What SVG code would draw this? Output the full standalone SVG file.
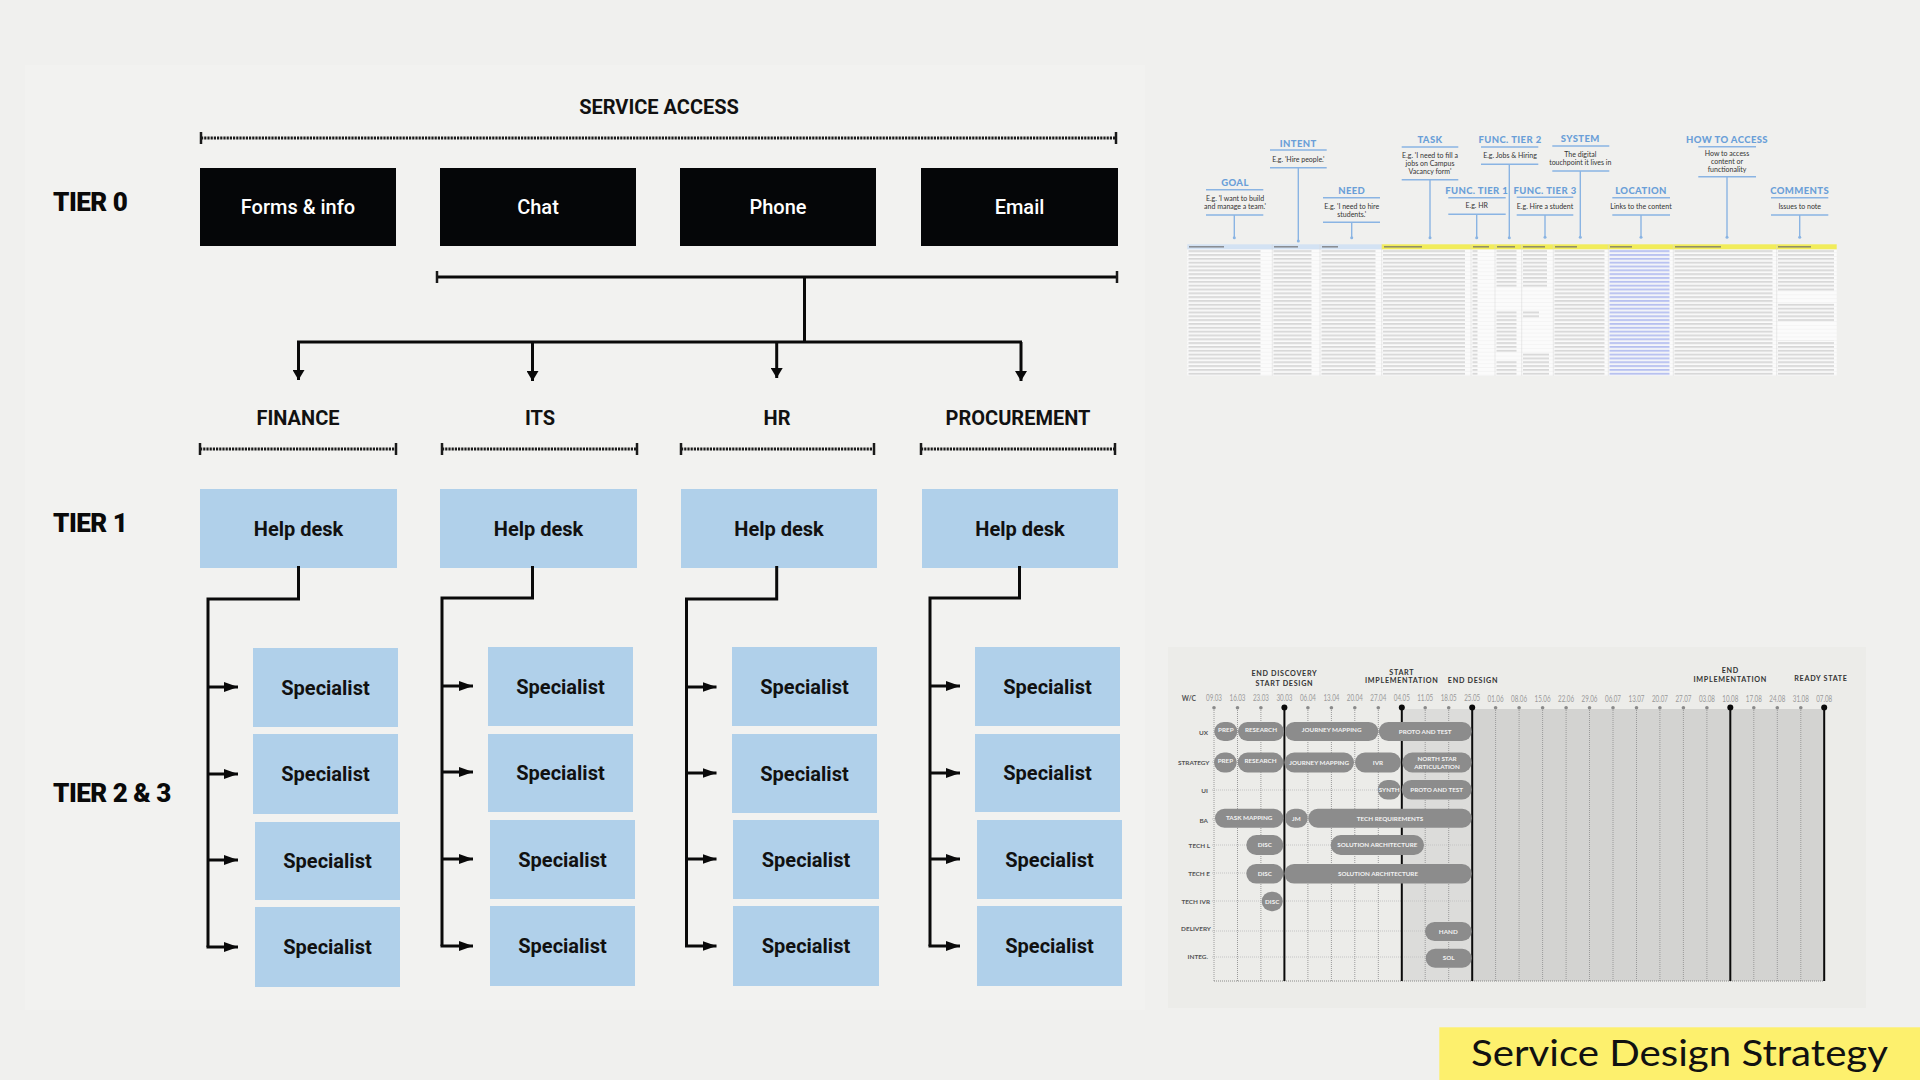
<svg xmlns="http://www.w3.org/2000/svg" width="1920" height="1080" viewBox="0 0 1920 1080">
<defs>
<style>
.tier{font-family:Roboto,"Liberation Sans",sans-serif;font-weight:900;font-size:26px;fill:#0a0a0a;letter-spacing:-0.5px}
.sec{font-family:Roboto,"Liberation Sans",sans-serif;font-weight:700;font-size:20px;fill:#111;text-anchor:middle}
.blk{fill:#050608}
.blu{fill:#b0d0ea}
.wt{font-family:Roboto,"Liberation Sans",sans-serif;font-weight:500;font-size:20px;fill:#fff;text-anchor:middle}
.bt{font-family:Roboto,"Liberation Sans",sans-serif;font-weight:700;font-size:20px;fill:#111;text-anchor:middle}
.dot{stroke:#1a1a1a;stroke-width:3;stroke-dasharray:2.2 1;fill:none}
.tick{stroke:#1a1a1a;stroke-width:2.5;fill:none}
.con{stroke:#0a0a0a;stroke-width:3;fill:none}
.st{font-family:Lato,"Open Sans",sans-serif;font-weight:900;font-size:9.5px;fill:#6a9fd8;text-anchor:middle;letter-spacing:0.4px}
.sd{font-family:Lato,"Open Sans",sans-serif;font-size:7px;fill:#333;text-anchor:middle}
.sl{stroke:#8ab4e3;stroke-width:1.4;fill:none}
.gd{font-family:Lato,"Open Sans",sans-serif;font-size:8.5px;fill:#9a9a9a;text-anchor:middle}
.gm{font-family:Lato,"Open Sans",sans-serif;font-weight:700;font-size:7.2px;fill:#333;text-anchor:middle;letter-spacing:0.7px}
.gr{font-family:Lato,"Open Sans",sans-serif;font-weight:700;font-size:6.4px;fill:#555;text-anchor:end}
.bar{fill:#8c8c8c}
.bx{font-family:Lato,"Open Sans",sans-serif;font-weight:700;font-size:6.3px;fill:#f2f2f2;text-anchor:middle}
.vl{stroke:#9a9a9a;stroke-width:1;stroke-dasharray:1 1;fill:none}
.hl{stroke:#c4c4c4;stroke-width:1;stroke-dasharray:1 1;fill:none}
.ml{stroke:#0a0a0a;stroke-width:2;fill:none}
</style>
<marker id="ad" viewBox="0 0 10 12" refX="10" refY="6" markerWidth="10" markerHeight="12" markerUnits="userSpaceOnUse" orient="auto"><path d="M0,0 L10,6 L0,12 Z" fill="#0a0a0a"/></marker>
<marker id="ar" viewBox="0 0 14 10" refX="14" refY="5" markerWidth="14" markerHeight="10" markerUnits="userSpaceOnUse" orient="auto"><path d="M0,0 L14,5 L0,10 Z" fill="#0a0a0a"/></marker>
<pattern id="grid" patternUnits="userSpaceOnUse" x="0" y="249.3" width="10" height="3.83"><rect width="10" height="3.83" fill="#fbfbfb"/><rect y="3.55" width="10" height="0.3" fill="#e4e4e4"/></pattern>
<pattern id="tx" patternUnits="userSpaceOnUse" x="0" y="249.3" width="4" height="3.83"><rect y="1.3" width="4" height="1.1" fill="#c2c2c2"/></pattern>
<pattern id="lk" patternUnits="userSpaceOnUse" x="0" y="249.3" width="4" height="3.83"><rect y="0.6" width="4" height="2.6" fill="#e8ebf9"/><rect y="1.3" width="4" height="1.1" fill="#9aa7ea"/></pattern>
</defs>
<rect width="1920" height="1080" fill="#f0f0ee"/>
<rect x="25" y="65" width="1120" height="945" fill="#f2f2f0"/>

<!-- headings -->
<text x="659" y="114" class="sec">SERVICE ACCESS</text>
<text x="53" y="211" class="tier">TIER 0</text>
<text x="53" y="532" class="tier">TIER 1</text>
<text x="53" y="802" class="tier">TIER 2 &amp; 3</text>

<g id="brackets">
<line x1="201" y1="138" x2="1116" y2="138" class="dot"/>
<line x1="201" y1="132" x2="201" y2="144" class="tick"/><line x1="1116" y1="132" x2="1116" y2="144" class="tick"/>
<line x1="200" y1="449" x2="396" y2="449" class="dot"/>
<line x1="200" y1="443" x2="200" y2="455" class="tick"/><line x1="396" y1="443" x2="396" y2="455" class="tick"/>
<line x1="442" y1="449" x2="637" y2="449" class="dot"/>
<line x1="442" y1="443" x2="442" y2="455" class="tick"/><line x1="637" y1="443" x2="637" y2="455" class="tick"/>
<line x1="681" y1="449" x2="874" y2="449" class="dot"/>
<line x1="681" y1="443" x2="681" y2="455" class="tick"/><line x1="874" y1="443" x2="874" y2="455" class="tick"/>
<line x1="921" y1="449" x2="1115" y2="449" class="dot"/>
<line x1="921" y1="443" x2="921" y2="455" class="tick"/><line x1="1115" y1="443" x2="1115" y2="455" class="tick"/>
</g>

<g id="tier0">
<g id="forms"><rect x="200" y="168" width="196" height="78" class="blk"/><text x="298" y="214" class="wt">Forms &amp; info</text></g>
<g id="chat"><rect x="440" y="168" width="196" height="78" class="blk"/><text x="538" y="214" class="wt">Chat</text></g>
<g id="phone"><rect x="680" y="168" width="196" height="78" class="blk"/><text x="778" y="214" class="wt">Phone</text></g>
<g id="email"><rect x="921" y="168" width="197" height="78" class="blk"/><text x="1019.5" y="214" class="wt">Email</text></g>
</g>

<g id="sections">
<text x="298" y="425" class="sec">FINANCE</text>
<text x="540" y="425" class="sec">ITS</text>
<text x="777" y="425" class="sec">HR</text>
<text x="1018" y="425" class="sec">PROCUREMENT</text>
</g>

<g id="tier1">
<g id="hd-fin"><rect x="200" y="489" width="197" height="79" class="blu"/><text x="298.5" y="536" class="bt">Help desk</text></g>
<g id="hd-its"><rect x="440" y="489" width="197" height="79" class="blu"/><text x="538.5" y="536" class="bt">Help desk</text></g>
<g id="hd-hr"><rect x="681" y="489" width="196" height="79" class="blu"/><text x="779" y="536" class="bt">Help desk</text></g>
<g id="hd-proc"><rect x="922" y="489" width="196" height="79" class="blu"/><text x="1020" y="536" class="bt">Help desk</text></g>
</g>

<g id="specialists">
<g id="fin-s1"><rect x="253" y="648" width="145" height="79" class="blu"/><text x="325.5" y="694.5" class="bt">Specialist</text></g>
<g id="fin-s2"><rect x="253" y="734" width="145" height="80" class="blu"/><text x="325.5" y="781" class="bt">Specialist</text></g>
<g id="fin-s3"><rect x="255" y="822" width="145" height="78" class="blu"/><text x="327.5" y="868" class="bt">Specialist</text></g>
<g id="fin-s4"><rect x="255" y="907" width="145" height="80" class="blu"/><text x="327.5" y="954" class="bt">Specialist</text></g>
<g id="its-s1"><rect x="488" y="647" width="145" height="79" class="blu"/><text x="560.5" y="693.5" class="bt">Specialist</text></g>
<g id="its-s2"><rect x="488" y="734" width="145" height="78" class="blu"/><text x="560.5" y="780" class="bt">Specialist</text></g>
<g id="its-s3"><rect x="490" y="820" width="145" height="79" class="blu"/><text x="562.5" y="866.5" class="bt">Specialist</text></g>
<g id="its-s4"><rect x="490" y="906" width="145" height="80" class="blu"/><text x="562.5" y="953" class="bt">Specialist</text></g>
<g id="hr-s1"><rect x="732" y="647" width="145" height="79" class="blu"/><text x="804.5" y="693.5" class="bt">Specialist</text></g>
<g id="hr-s2"><rect x="732" y="734" width="145" height="79" class="blu"/><text x="804.5" y="780.5" class="bt">Specialist</text></g>
<g id="hr-s3"><rect x="733" y="820" width="146" height="79" class="blu"/><text x="806" y="866.5" class="bt">Specialist</text></g>
<g id="hr-s4"><rect x="733" y="906" width="146" height="80" class="blu"/><text x="806" y="953" class="bt">Specialist</text></g>
<g id="proc-s1"><rect x="975" y="647" width="145" height="79" class="blu"/><text x="1047.5" y="693.5" class="bt">Specialist</text></g>
<g id="proc-s2"><rect x="975" y="734" width="145" height="78" class="blu"/><text x="1047.5" y="780" class="bt">Specialist</text></g>
<g id="proc-s3"><rect x="977" y="820" width="145" height="79" class="blu"/><text x="1049.5" y="866.5" class="bt">Specialist</text></g>
<g id="proc-s4"><rect x="977" y="906" width="145" height="80" class="blu"/><text x="1049.5" y="953" class="bt">Specialist</text></g>
</g>

<g id="connectors">
<line x1="437" y1="277" x2="1117" y2="277" class="con"/>
<line x1="437" y1="271" x2="437" y2="283" class="tick"/><line x1="1117" y1="271" x2="1117" y2="283" class="tick"/>
<line x1="804.5" y1="277" x2="804.5" y2="342" class="con"/>
<line x1="297" y1="342" x2="1022" y2="342" class="con"/>
<line x1="298.5" y1="342" x2="298.5" y2="380" class="con" marker-end="url(#ad)"/>
<line x1="532.5" y1="342" x2="532.5" y2="381" class="con" marker-end="url(#ad)"/>
<line x1="776.7" y1="342" x2="776.7" y2="378" class="con" marker-end="url(#ad)"/>
<line x1="1021" y1="342" x2="1021" y2="381" class="con" marker-end="url(#ad)"/>

<path d="M298.5 566 V599 H208 V947" class="con"/>
<line x1="208" y1="687" x2="238" y2="687" class="con" marker-end="url(#ar)"/>
<line x1="208" y1="774" x2="238" y2="774" class="con" marker-end="url(#ar)"/>
<line x1="208" y1="860" x2="238" y2="860" class="con" marker-end="url(#ar)"/>
<line x1="206.5" y1="947" x2="238" y2="947" class="con" marker-end="url(#ar)"/>

<path d="M532.5 566 V598 H442 V946" class="con"/>
<line x1="442" y1="686" x2="473" y2="686" class="con" marker-end="url(#ar)"/>
<line x1="442" y1="772" x2="473" y2="772" class="con" marker-end="url(#ar)"/>
<line x1="442" y1="859" x2="473" y2="859" class="con" marker-end="url(#ar)"/>
<line x1="440.5" y1="946" x2="473" y2="946" class="con" marker-end="url(#ar)"/>

<path d="M776.7 566 V599 H686.5 V946" class="con"/>
<line x1="686.5" y1="687" x2="716.5" y2="687" class="con" marker-end="url(#ar)"/>
<line x1="686.5" y1="773" x2="716.5" y2="773" class="con" marker-end="url(#ar)"/>
<line x1="686.5" y1="859" x2="716.5" y2="859" class="con" marker-end="url(#ar)"/>
<line x1="685" y1="946" x2="716.5" y2="946" class="con" marker-end="url(#ar)"/>

<path d="M1019.5 566 V598 H930 V946" class="con"/>
<line x1="930" y1="686" x2="960" y2="686" class="con" marker-end="url(#ar)"/>
<line x1="930" y1="773" x2="960" y2="773" class="con" marker-end="url(#ar)"/>
<line x1="930" y1="859" x2="960" y2="859" class="con" marker-end="url(#ar)"/>
<line x1="928.5" y1="946" x2="960" y2="946" class="con" marker-end="url(#ar)"/>
</g>

<!-- spreadsheet image -->
<g id="spreadsheet">
<rect x="1187.3" y="249.3" width="649.4" height="126.4" fill="url(#grid)"/>
<rect x="1187.3" y="244.3" width="194.4" height="5" fill="#d3e2f3"/>
<rect x="1381.7" y="244.3" width="455" height="5" fill="#f1ec5a"/>
<g fill="#6a6a6a">
<rect x="1189" y="246.3" width="35" height="1.1"/><rect x="1274" y="246.3" width="24" height="1.1"/><rect x="1322" y="246.3" width="16" height="1.1"/>
<rect x="1384" y="246.3" width="38" height="1.1"/><rect x="1473" y="246.3" width="16" height="1.1"/><rect x="1497" y="246.3" width="18" height="1.1"/>
<rect x="1523" y="246.3" width="22" height="1.1"/><rect x="1555" y="246.3" width="22" height="1.1"/><rect x="1610" y="246.3" width="22" height="1.1"/>
<rect x="1675" y="246.3" width="46" height="1.1"/><rect x="1778" y="246.3" width="33" height="1.1"/>
</g>
<g stroke="#d6d6d6" stroke-width="0.5">
<line x1="1272.3" y1="244.3" x2="1272.3" y2="375.7"/><line x1="1320" y1="244.3" x2="1320" y2="375.7"/><line x1="1381.7" y1="244.3" x2="1381.7" y2="375.7"/>
<line x1="1471" y1="244.3" x2="1471" y2="375.7"/><line x1="1495" y1="244.3" x2="1495" y2="375.7"/><line x1="1521.7" y1="244.3" x2="1521.7" y2="375.7"/>
<line x1="1553.3" y1="244.3" x2="1553.3" y2="375.7"/><line x1="1608.3" y1="244.3" x2="1608.3" y2="375.7"/><line x1="1673.3" y1="244.3" x2="1673.3" y2="375.7"/>
<line x1="1776.7" y1="244.3" x2="1776.7" y2="375.7"/>
</g>
<rect x="1188.5" y="249.3" width="72" height="126.4" fill="url(#tx)"/>
<rect x="1273.5" y="249.3" width="38" height="126.4" fill="url(#tx)"/>
<rect x="1321.5" y="249.3" width="54" height="126.4" fill="url(#tx)"/>
<rect x="1383" y="249.3" width="82" height="126.4" fill="url(#tx)"/>
<rect x="1472.5" y="249.3" width="5" height="126.4" fill="url(#tx)"/>
<rect x="1496.5" y="249.3" width="20" height="38" fill="url(#tx)"/>
<rect x="1496.5" y="310" width="20" height="42" fill="url(#tx)"/>
<rect x="1496.5" y="360" width="20" height="15.7" fill="url(#tx)"/>
<rect x="1523" y="249.3" width="24" height="38" fill="url(#tx)"/>
<rect x="1523" y="310" width="16" height="8" fill="url(#tx)"/>
<rect x="1523" y="352" width="26" height="23.7" fill="url(#tx)"/>
<rect x="1554.5" y="249.3" width="50" height="126.4" fill="url(#tx)"/>
<rect x="1609.5" y="249.3" width="60" height="126.4" fill="url(#lk)"/>
<rect x="1674.5" y="249.3" width="98" height="126.4" fill="url(#tx)"/>
<rect x="1778" y="249.3" width="56" height="42" fill="url(#tx)"/>
<rect x="1778" y="302" width="56" height="20" fill="url(#tx)"/>
<rect x="1778" y="340" width="56" height="35.7" fill="url(#tx)"/>

<g id="sheet-labels">
<text x="1235" y="186" class="st">GOAL</text>
<line x1="1206" y1="189.7" x2="1263.3" y2="189.7" class="sl"/>
<text x="1235" y="200.5" class="sd">E.g. 'I want to build</text><text x="1235" y="208.5" class="sd">and manage a team.'</text>
<line x1="1206" y1="215" x2="1263.3" y2="215" class="sl"/>
<line x1="1234.3" y1="215" x2="1234.3" y2="237.7" class="sl"/><circle cx="1234.3" cy="237.7" r="1.5" fill="#8ab4e3"/>

<text x="1298.3" y="146.5" class="st">INTENT</text>
<line x1="1270" y1="150" x2="1326.7" y2="150" class="sl"/>
<text x="1298.3" y="161.5" class="sd">E.g. 'Hire people.'</text>
<line x1="1270" y1="167.7" x2="1326.7" y2="167.7" class="sl"/>
<line x1="1298.3" y1="167.7" x2="1298.3" y2="241" class="sl"/><circle cx="1298.3" cy="241" r="1.5" fill="#8ab4e3"/>

<text x="1351.7" y="194" class="st">NEED</text>
<line x1="1323" y1="197.7" x2="1380" y2="197.7" class="sl"/>
<text x="1351.7" y="208.5" class="sd">E.g. 'I need to hire</text><text x="1351.7" y="216.8" class="sd">students.'</text>
<line x1="1323" y1="222.3" x2="1380" y2="222.3" class="sl"/>
<line x1="1351.7" y1="222.3" x2="1351.7" y2="237.7" class="sl"/><circle cx="1351.7" cy="237.7" r="1.5" fill="#8ab4e3"/>

<text x="1430" y="143.3" class="st">TASK</text>
<line x1="1401.7" y1="147" x2="1458.3" y2="147" class="sl"/>
<text x="1430" y="157.8" class="sd">E.g. 'I need to fill a</text><text x="1430" y="166.2" class="sd">jobs on Campus</text><text x="1430" y="174.2" class="sd">Vacancy form'</text>
<line x1="1401.7" y1="179.7" x2="1458.3" y2="179.7" class="sl"/>
<line x1="1430" y1="179.7" x2="1430" y2="237.7" class="sl"/><circle cx="1430" cy="237.7" r="1.5" fill="#8ab4e3"/>

<text x="1476.7" y="193.6" class="st">FUNC. TIER 1</text>
<line x1="1448.3" y1="197.7" x2="1505.7" y2="197.7" class="sl"/>
<text x="1476.7" y="208.2" class="sd">E.g. HR</text>
<line x1="1448.3" y1="214.3" x2="1505.7" y2="214.3" class="sl"/>
<line x1="1476.7" y1="214.3" x2="1476.7" y2="237.7" class="sl"/><circle cx="1476.7" cy="237.7" r="1.5" fill="#8ab4e3"/>

<text x="1510" y="143.3" class="st">FUNC. TIER 2</text>
<line x1="1481" y1="147" x2="1538.3" y2="147" class="sl"/>
<text x="1510" y="157.8" class="sd">E.g. Jobs &amp; Hiring</text>
<line x1="1481" y1="164.3" x2="1538.3" y2="164.3" class="sl"/>
<line x1="1509.3" y1="164.3" x2="1509.3" y2="237.7" class="sl"/><circle cx="1509.3" cy="237.7" r="1.5" fill="#8ab4e3"/>

<text x="1545" y="193.6" class="st">FUNC. TIER 3</text>
<line x1="1516.7" y1="197.3" x2="1573.3" y2="197.3" class="sl"/>
<text x="1545" y="208.8" class="sd">E.g. Hire a student</text>
<line x1="1516.7" y1="215" x2="1573.3" y2="215" class="sl"/>
<line x1="1545" y1="215" x2="1545" y2="237.3" class="sl"/><circle cx="1545" cy="237.3" r="1.5" fill="#8ab4e3"/>

<text x="1580.3" y="142.3" class="st">SYSTEM</text>
<line x1="1552.3" y1="146" x2="1609.3" y2="146" class="sl"/>
<text x="1580.3" y="156.8" class="sd">The digital</text><text x="1580.3" y="164.8" class="sd">touchpoint it lives in</text>
<line x1="1552.3" y1="171" x2="1609.3" y2="171" class="sl"/>
<line x1="1580.3" y1="171" x2="1580.3" y2="237.3" class="sl"/><circle cx="1580.3" cy="237.3" r="1.5" fill="#8ab4e3"/>

<text x="1641" y="194" class="st">LOCATION</text>
<line x1="1612.3" y1="197.7" x2="1670" y2="197.7" class="sl"/>
<text x="1641" y="208.8" class="sd">Links to the content</text>
<line x1="1612.3" y1="215" x2="1670" y2="215" class="sl"/>
<line x1="1641" y1="215" x2="1641" y2="237.3" class="sl"/><circle cx="1641" cy="237.3" r="1.5" fill="#8ab4e3"/>

<text x="1727" y="143.3" class="st">HOW TO ACCESS</text>
<line x1="1698.3" y1="146.7" x2="1756" y2="146.7" class="sl"/>
<text x="1727" y="155.8" class="sd">How to access</text><text x="1727" y="163.8" class="sd">content or</text><text x="1727" y="171.8" class="sd">functionality</text>
<line x1="1698.3" y1="176.7" x2="1756" y2="176.7" class="sl"/>
<line x1="1727" y1="176.7" x2="1727" y2="237.3" class="sl"/><circle cx="1727" cy="237.3" r="1.5" fill="#8ab4e3"/>

<text x="1799.7" y="194" class="st">COMMENTS</text>
<line x1="1771" y1="197.7" x2="1828.3" y2="197.7" class="sl"/>
<text x="1799.7" y="208.8" class="sd">Issues to note</text>
<line x1="1771" y1="215" x2="1828.3" y2="215" class="sl"/>
<line x1="1799.7" y1="215" x2="1799.7" y2="237.3" class="sl"/><circle cx="1799.7" cy="237.3" r="1.5" fill="#8ab4e3"/>
</g>
</g>

<!-- gantt image -->
<g id="gantt">
<rect x="1168" y="647" width="698" height="361" fill="#ecece9"/>
<rect x="1401.8" y="709" width="70.4" height="272" fill="#dcdcda"/>
<rect x="1472.2" y="709" width="352" height="272" fill="#d3d3d1"/>
<g class="hl">
<line x1="1214" y1="732" x2="1472" y2="732"/><line x1="1212" y1="762" x2="1472" y2="762"/><line x1="1212" y1="790" x2="1472" y2="790"/>
<line x1="1212" y1="819" x2="1472" y2="819"/><line x1="1212" y1="845" x2="1472" y2="845"/><line x1="1212" y1="873" x2="1472" y2="873"/>
<line x1="1212" y1="901" x2="1472" y2="901"/><line x1="1212" y1="931" x2="1472" y2="931"/><line x1="1212" y1="957" x2="1472" y2="957"/>
</g>
<g class="vl">
<line x1="1214" y1="708" x2="1214" y2="981"/><line x1="1237.5" y1="708" x2="1237.5" y2="981"/><line x1="1260.9" y1="708" x2="1260.9" y2="981"/>
<line x1="1307.9" y1="708" x2="1307.9" y2="981"/><line x1="1331.4" y1="708" x2="1331.4" y2="981"/><line x1="1354.8" y1="708" x2="1354.8" y2="981"/>
<line x1="1378.3" y1="708" x2="1378.3" y2="981"/><line x1="1425.2" y1="708" x2="1425.2" y2="981"/><line x1="1448.7" y1="708" x2="1448.7" y2="981"/>
<line x1="1495.6" y1="708" x2="1495.6" y2="981"/><line x1="1519.1" y1="708" x2="1519.1" y2="981"/><line x1="1542.6" y1="708" x2="1542.6" y2="981"/>
<line x1="1566.1" y1="708" x2="1566.1" y2="981"/><line x1="1589.5" y1="708" x2="1589.5" y2="981"/><line x1="1613" y1="708" x2="1613" y2="981"/>
<line x1="1636.5" y1="708" x2="1636.5" y2="981"/><line x1="1659.9" y1="708" x2="1659.9" y2="981"/><line x1="1683.4" y1="708" x2="1683.4" y2="981"/>
<line x1="1706.9" y1="708" x2="1706.9" y2="981"/><line x1="1753.8" y1="708" x2="1753.8" y2="981"/><line x1="1777.3" y1="708" x2="1777.3" y2="981"/>
<line x1="1800.8" y1="708" x2="1800.8" y2="981"/>
</g>
<line x1="1214" y1="981" x2="1824" y2="981" stroke="#8a8a8a" stroke-width="1.2" stroke-dasharray="1 1"/>
<g fill="#8a8a8a">
<circle cx="1214" cy="707.7" r="1.8"/><circle cx="1237.5" cy="707.7" r="1.8"/><circle cx="1260.9" cy="707.7" r="1.8"/>
<circle cx="1307.9" cy="707.7" r="1.8"/><circle cx="1331.4" cy="707.7" r="1.8"/><circle cx="1354.8" cy="707.7" r="1.8"/>
<circle cx="1378.3" cy="707.7" r="1.8"/><circle cx="1425.2" cy="707.7" r="1.8"/><circle cx="1448.7" cy="707.7" r="1.8"/>
<circle cx="1495.6" cy="707.7" r="1.8"/><circle cx="1519.1" cy="707.7" r="1.8"/><circle cx="1542.6" cy="707.7" r="1.8"/>
<circle cx="1566.1" cy="707.7" r="1.8"/><circle cx="1589.5" cy="707.7" r="1.8"/><circle cx="1613" cy="707.7" r="1.8"/>
<circle cx="1636.5" cy="707.7" r="1.8"/><circle cx="1659.9" cy="707.7" r="1.8"/><circle cx="1683.4" cy="707.7" r="1.8"/>
<circle cx="1706.9" cy="707.7" r="1.8"/><circle cx="1753.8" cy="707.7" r="1.8"/><circle cx="1777.3" cy="707.7" r="1.8"/>
<circle cx="1800.8" cy="707.7" r="1.8"/>
</g>
<g class="ml">
<line x1="1284.4" y1="707" x2="1284.4" y2="981"/><line x1="1401.8" y1="707" x2="1401.8" y2="981"/><line x1="1472.2" y1="707" x2="1472.2" y2="981"/>
<line x1="1730.3" y1="707" x2="1730.3" y2="981"/><line x1="1824.2" y1="707" x2="1824.2" y2="981"/>
</g>
<g fill="#0a0a0a">
<circle cx="1284.4" cy="707.5" r="3"/><circle cx="1401.8" cy="707.5" r="3"/><circle cx="1472.2" cy="707.5" r="3"/>
<circle cx="1730.3" cy="707.5" r="3"/><circle cx="1824.2" cy="707.5" r="3"/>
</g>

<text x="1284.4" y="676" class="gm">END DISCOVERY</text><text x="1284.4" y="685.5" class="gm">START DESIGN</text>
<text x="1401.8" y="674.5" class="gm">START</text><text x="1401.8" y="683" class="gm">IMPLEMENTATION</text>
<text x="1473" y="683" class="gm">END DESIGN</text>
<text x="1730.3" y="673.2" class="gm">END</text><text x="1730.3" y="681.8" class="gm">IMPLEMENTATION</text>
<text x="1821" y="680.5" class="gm">READY STATE</text>

<text x="1196" y="701" class="gr" style="font-size:6.8px">W/C</text>
<g class="gd">
<text x="1214" y="701" textLength="16" lengthAdjust="spacingAndGlyphs">09.03</text><text x="1237.5" y="701" textLength="16" lengthAdjust="spacingAndGlyphs">16.03</text><text x="1260.9" y="701" textLength="16" lengthAdjust="spacingAndGlyphs">23.03</text><text x="1284.4" y="701" textLength="16" lengthAdjust="spacingAndGlyphs">30.03</text>
<text x="1307.9" y="701" textLength="16" lengthAdjust="spacingAndGlyphs">06.04</text><text x="1331.4" y="701" textLength="16" lengthAdjust="spacingAndGlyphs">13.04</text><text x="1354.8" y="701" textLength="16" lengthAdjust="spacingAndGlyphs">20.04</text><text x="1378.3" y="701" textLength="16" lengthAdjust="spacingAndGlyphs">27.04</text>
<text x="1401.8" y="701" textLength="16" lengthAdjust="spacingAndGlyphs">04.05</text><text x="1425.2" y="701" textLength="16" lengthAdjust="spacingAndGlyphs">11.05</text><text x="1448.7" y="701" textLength="16" lengthAdjust="spacingAndGlyphs">18.05</text><text x="1472.2" y="701" textLength="16" lengthAdjust="spacingAndGlyphs">25.05</text>
<text x="1495.6" y="702" textLength="16" lengthAdjust="spacingAndGlyphs">01.06</text><text x="1519.1" y="702" textLength="16" lengthAdjust="spacingAndGlyphs">08.06</text><text x="1542.6" y="702" textLength="16" lengthAdjust="spacingAndGlyphs">15.06</text><text x="1566.1" y="702" textLength="16" lengthAdjust="spacingAndGlyphs">22.06</text>
<text x="1589.5" y="702" textLength="16" lengthAdjust="spacingAndGlyphs">29.06</text><text x="1613" y="702" textLength="16" lengthAdjust="spacingAndGlyphs">06.07</text><text x="1636.5" y="702" textLength="16" lengthAdjust="spacingAndGlyphs">13.07</text><text x="1659.9" y="702" textLength="16" lengthAdjust="spacingAndGlyphs">20.07</text>
<text x="1683.4" y="702" textLength="16" lengthAdjust="spacingAndGlyphs">27.07</text><text x="1706.9" y="702" textLength="16" lengthAdjust="spacingAndGlyphs">03.08</text><text x="1730.3" y="702" textLength="16" lengthAdjust="spacingAndGlyphs">10.08</text><text x="1753.8" y="702" textLength="16" lengthAdjust="spacingAndGlyphs">17.08</text>
<text x="1777.3" y="702" textLength="16" lengthAdjust="spacingAndGlyphs">24.08</text><text x="1800.8" y="702" textLength="16" lengthAdjust="spacingAndGlyphs">31.08</text><text x="1824.2" y="702" textLength="16" lengthAdjust="spacingAndGlyphs">07.08</text>
</g>

<g>
<text x="1208" y="734.5" class="gr">UX</text>
<text x="1209.5" y="764.5" class="gr">STRATEGY</text>
<text x="1208" y="792.5" class="gr">UI</text>
<text x="1208" y="822.5" class="gr">BA</text>
<text x="1210" y="847.5" class="gr">TECH L</text>
<text x="1210" y="875.5" class="gr">TECH E</text>
<text x="1210" y="903.5" class="gr">TECH IVR</text>
<text x="1211" y="931" class="gr">DELIVERY</text>
<text x="1208" y="959" class="gr">INTEG.</text>
</g>

<g class="bar">
<rect x="1214.3" y="722" width="23" height="19" rx="9.5"/>
<rect x="1238" y="722" width="46" height="19" rx="9.5"/>
<rect x="1285" y="722" width="93.3" height="19" rx="9.5"/>
<rect x="1378.8" y="722" width="92.9" height="19" rx="9.5"/>
<rect x="1214" y="752.5" width="22.7" height="20" rx="10"/>
<rect x="1237.7" y="752.5" width="45.6" height="20" rx="10"/>
<rect x="1284.3" y="752.5" width="69.7" height="20" rx="10"/>
<rect x="1355" y="752.5" width="46" height="20" rx="10"/>
<rect x="1402.3" y="752.5" width="69.4" height="20" rx="10"/>
<rect x="1377.7" y="780" width="23" height="19.5" rx="9.75"/>
<rect x="1401.7" y="780" width="70" height="19.5" rx="9.75"/>
<rect x="1215" y="808.7" width="68.3" height="19" rx="9.5"/>
<rect x="1285" y="808.7" width="22.7" height="19" rx="9.5"/>
<rect x="1308.3" y="808.7" width="163.4" height="19" rx="9.5"/>
<rect x="1246.3" y="835" width="37" height="20" rx="10"/>
<rect x="1330.7" y="835" width="93.3" height="20" rx="10"/>
<rect x="1246.3" y="864" width="37" height="19.5" rx="9.75"/>
<rect x="1284.3" y="864" width="187.4" height="19.5" rx="9.75"/>
<rect x="1261.7" y="891.7" width="21" height="19.5" rx="9.75"/>
<rect x="1425" y="922" width="46.7" height="19" rx="9.5"/>
<rect x="1425.7" y="948.7" width="46" height="19" rx="9.5"/>
</g>
<g class="bx">
<text x="1225.8" y="732">PREP</text>
<text x="1261" y="732">RESEARCH</text>
<text x="1331.6" y="732">JOURNEY MAPPING</text>
<text x="1425.2" y="733.5">PROTO AND TEST</text>
<text x="1225.4" y="763">PREP</text>
<text x="1260.5" y="763">RESEARCH</text>
<text x="1319.1" y="764.5">JOURNEY MAPPING</text>
<text x="1378" y="764.5">IVR</text>
<text x="1437" y="761">NORTH STAR</text><text x="1437" y="769">ARTICULATION</text>
<text x="1389.2" y="792">SYNTH</text>
<text x="1436.7" y="792">PROTO AND TEST</text>
<text x="1249.2" y="820">TASK MAPPING</text>
<text x="1296.3" y="820.5">JM</text>
<text x="1390" y="820.5">TECH REQUIREMENTS</text>
<text x="1264.8" y="847">DISC</text>
<text x="1377.3" y="847">SOLUTION ARCHITECTURE</text>
<text x="1264.8" y="875.5">DISC</text>
<text x="1378" y="876">SOLUTION ARCHITECTURE</text>
<text x="1272.2" y="903.5">DISC</text>
<text x="1448.3" y="933.5">HAND</text>
<text x="1448.7" y="960.3">SOL</text>
</g>
</g>

<g id="title-tag">
<rect x="1439.3" y="1027.3" width="480.7" height="52.7" fill="#fdf06d"/>
<text x="1471" y="1066" textLength="417" lengthAdjust="spacingAndGlyphs" style="font-family:Lato,'Open Sans',sans-serif;font-size:37px;fill:#111">Service Design Strategy</text>
</g>
</svg>
